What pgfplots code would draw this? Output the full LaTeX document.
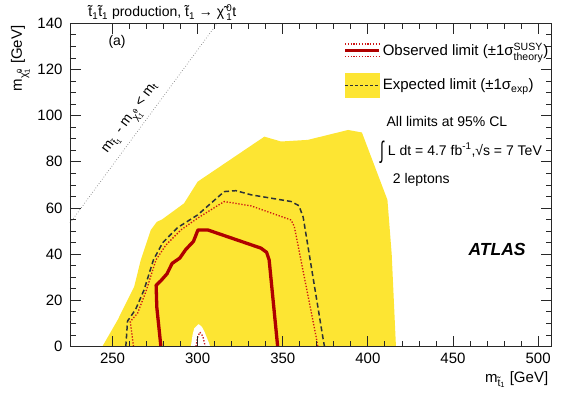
\documentclass[border=0pt]{standalone}
\usepackage{fontspec}
\setmainfont{Liberation Sans}
\usepackage{amsmath}
\usepackage{pgfplots}
\pgfplotsset{compat=1.18}
\definecolor{band}{RGB}{253,229,51}
\definecolor{obs}{RGB}{175,0,0}
\definecolor{obsdot}{RGB}{205,20,20}
\definecolor{expline}{RGB}{45,50,55}
\definecolor{frame}{RGB}{40,40,40}
% stacked super/subscript in the text font
\newcommand{\ssub}[2]{\ensuremath{{}^{\text{#1}}_{\text{#2}}}}
\newcommand{\stp}{\~{t}}
\newcommand{\neut}{\~{χ}}

\begin{document}
\begin{tikzpicture}
\begin{axis}[
  width=481.7pt, height=323.2pt, scale only axis,
  xmin=225, xmax=508, ymin=0, ymax=140,
  xtick={250,300,...,500}, ytick={0,20,...,140},
  minor x tick num=4, minor y tick num=3,
  tick align=inside, major tick length=11pt, minor tick length=6pt,
  axis on top, clip=false,
  tick style={color=frame, line width=0.8pt},
  axis line style={color=frame, line width=0.9pt},
  /pgf/number format/assume math mode=true,
  ticklabel style={font=\fontsize{15}{18}\selectfont},
  xticklabel style={yshift=-2.5pt},
  yticklabel style={xshift=-4pt},
  label style={font=\fontsize{15}{18}\selectfont},
  xlabel={m$_{\text{\stp}_{\text{1}}}$ [GeV]},
  xlabel style={at={(axis description cs:1,-0.11)}, anchor=base east},
  ylabel={m$_{\text{\neut}^{\text{0}}_{\text{1}}}$ [GeV]},
  ylabel style={at={(axis description cs:-0.1,1.004)}, anchor=base east},
  legend cell align=left,
  legend style={at={(axis description cs:0.567,0.945)}, anchor=north west,
    draw=none, fill=none, inner sep=0pt, row sep=14pt,
    font=\fontsize{15}{18}\selectfont},
]
% expected +-1 sigma band
\addplot[fill=band, draw=none, forget plot] coordinates {
  (244,0) (253,11.5) (262.7,25.9) (266.6,37.5) (272.5,50.5) (276,54) (279,55)
  (292,62) (300,71.4) (339.2,90.9) (349,88.8) (364.7,89.5) (388.4,93.8)
  (396.5,92.7) (411.5,63.5) (414,40) (416.5,0)
} -- cycle;
% small hole in the band near 300 GeV
\addplot[fill=white, draw=none, forget plot] coordinates {
  (296,0) (297,5) (298,7.9) (300.6,9.7) (302.5,8.5) (304,6.4) (306.7,1.4) (307.3,0)
} -- cycle;
% expected limit
\addplot[expline, line width=1.5pt, dash pattern=on 5pt off 3pt, forget plot] coordinates {
  (257.8,0) (258.8,11) (263.5,16) (268.5,24.5) (274,37.5) (279.5,45) (288.2,51.5)
  (300,57) (315.6,67.1) (322.5,67.5) (331.4,65.7) (354.9,62.8) (359.5,61) (362,56)
  (373.5,4.2) (374.5,0)
};
% observed -1 sigma theory
\addplot[obsdot, line width=1.3pt, dash pattern=on 1.3pt off 1.7pt, forget plot] coordinates {
  (262.3,0) (260.8,8.6) (260.4,10.8) (264.7,14.4) (269.6,23.8) (275.5,37.5)
  (281.4,44) (290.2,50.5) (300,55.6) (315.6,62.8) (331.4,60.9) (354.9,54.8)
  (356.8,51.9) (369.6,4.2) (370.6,0)
};
% observed +1 sigma theory (island)
\addplot[obsdot, line width=1.3pt, dash pattern=on 1.3pt off 1.7pt, forget plot] coordinates {
  (299,0) (300,4) (301.3,6.2) (303,4.5) (304.5,0)
};
% observed limit
\addplot[obs, line width=3.3pt, line join=round, forget plot] coordinates {
  (278.4,0) (276,17) (275.6,26.5) (278.4,28.5) (282,31.5) (285,36) (289.5,38.3)
  (293,42) (297.5,45.5) (300.2,50.5) (305.9,50.5) (337.2,42.6) (340.5,40.8)
  (342,37.5) (347,0)
};
% kinematic limit
\addplot[gray, dotted, line width=0.7pt, forget plot] coordinates {(225,53.5) (311.5,140)};

\addlegendimage{legend image code/.code={
  \draw[obs, line width=3.5pt] (0pt,0pt) -- (34pt,0pt);
  \draw[obsdot, line width=1.2pt, dash pattern=on 1.2pt off 1.6pt] (0pt,6.3pt) -- (34pt,6.3pt);
  \draw[obsdot, line width=1.2pt, dash pattern=on 1.2pt off 1.6pt] (0pt,-6.3pt) -- (34pt,-6.3pt);}}
\addlegendentry{Observed limit (±1σ\ssub{SUSY}{theory})}
\addlegendimage{legend image code/.code={
  \fill[band] (0pt,-11.7pt) rectangle (34pt,11.7pt);
  \draw[expline, line width=1.2pt, dash pattern=on 3pt off 2pt] (0pt,0pt) -- (34pt,0pt);}}
\addlegendentry{Expected limit (±1σ\textsubscript{exp})}

\node[anchor=base west, font=\fontsize{14}{16}\selectfont] at (axis description cs:0.031,1.0195)
  {\stp\textsubscript{1}\stp\textsubscript{1} production, \stp\textsubscript{1} → \neut\,\ssub{0}{1}t};
\node[anchor=base west, font=\fontsize{14}{16}\selectfont] at (axis description cs:0.0727,0.93) {(a)};
\node[rotate=53.6, font=\fontsize{14}{16}\selectfont] at (axis cs:261.4,98.5)
  {m$_{\text{\stp}_{\text{1}}}$ - m$_{\text{\neut}^{\text{0}}_{\text{1}}}$ < m$_{\text{t}}$};
\node[anchor=base west, font=\fontsize{14}{16}\selectfont] at (axis description cs:0.650,0.680)
  {All limits at 95\% CL};
\node[anchor=base west, font=\fontsize{14}{16}\selectfont] at (axis description cs:0.6367,0.5925)
  {\raisebox{-0.25em}{\scalebox{1}[1.7]{∫}} L dt = 4.7 fb\textsuperscript{-1},√s = 7 TeV};
\node[anchor=base west, font=\fontsize{14}{16}\selectfont] at (axis description cs:0.663,0.505)
  {2 leptons};
\node[anchor=base west, font=\fontsize{17.5}{20}\selectfont\bfseries\itshape] at (axis description cs:0.820,0.283)
  {ATLAS};
\end{axis}
\pgfresetboundingbox
\path (current axis.south west) ++(-70pt,-47.5pt) rectangle ++(581pt,394pt);
\end{tikzpicture}
\end{document}
